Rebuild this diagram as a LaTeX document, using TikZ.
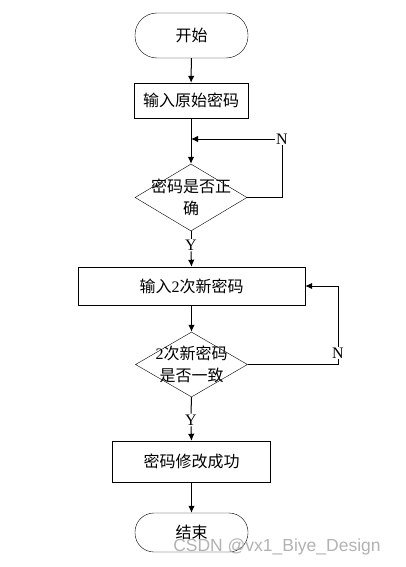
\documentclass[tikz,border=0pt]{standalone}
\usepackage{fontspec}
\setmainfont{Liberation Serif}
\newfontfamily\cjk{Noto Sans CJK SC}
\newfontfamily\wmfont{Liberation Sans}
\usetikzlibrary{shapes.geometric,arrows.meta}

\tikzset{
  terminal/.style={draw, rectangle, rounded corners=19pt, minimum width=113pt, font=\cjk\fontsize{16}{22}\selectfont},
  procbox/.style={draw, rectangle, font=\cjk\fontsize{16}{22}\selectfont},
  decision/.style={draw, diamond, inner sep=0pt, minimum width=112pt, minimum height=67pt},
  dtext/.style={align=center, font=\cjk\fontsize{16}{22}\selectfont},
  yn/.style={font=\fontsize{16}{18}\selectfont, inner sep=1pt},
  flow/.style={-{Latex[length=7pt,width=6.5pt]}, line width=1pt},
  link/.style={line width=1pt}
}

\begin{document}
\begin{tikzpicture}[x=1pt, y=-1pt]
		\useasboundingbox (0,0) rectangle (405,567);

		% nodes
		\node[terminal, minimum height=45pt, rounded corners=22pt] (start) at (191.5,35.5) {开始};
		\node[procbox, minimum width=114pt, minimum height=35pt] (oldpw) at (191,100.5) {输入原始密码};
		\node[decision, label={[dtext]center:密码是否正\\确}] (chkold) at (191,197.5) {};
		\node[procbox, minimum width=227pt, minimum height=38pt] (newpw) at (191.5,286) {输入{\rmfamily 2}次新密码};
		\node[decision, minimum height=65pt, label={[dtext]center:{\rmfamily 2}次新密码\\是否一致}] (chknew) at (191.5,364.5) {};
		\node[procbox, minimum width=158pt, minimum height=41pt] (done) at (191.5,461.5) {密码修改成功};
		\node[terminal, minimum height=39pt] (stop) at (191.5,532.5) {结束};

		% labels
		\node[yn] (nold) at (282,139) {N};
		\node[yn] (yold) at (191,245) {Y};
		\node[yn] (nnew) at (338,353) {N};
		\node[yn] (ynew) at (191,420) {Y};

		% connectors
		\draw[flow] (start) -- (oldpw);
		\draw[flow] (oldpw) -- (chkold);
		\draw[link] (chkold.east) -| (nold.south);
		\draw[flow] (nold.west) -- (oldpw.south |- nold.west);
		\draw[link] (chkold.south) -- (yold.north);
		\draw[flow] (yold.south) -- (newpw.north);
		\draw[flow] (newpw) -- (chknew);
		\draw[link] (chknew.east) -| (nnew.south);
		\draw[flow] (nnew.north) |- (newpw.east);
		\draw[link] (chknew.south) -- (ynew.north);
		\draw[flow] (ynew.south) -- (done.north);
		\draw[flow] (done) -- (stop);

		\node[text=gray!60, font=\wmfont\fontsize{17.5}{20}\selectfont] (mark) at (277,547) {CSDN @vx1\_Biye\_Design};
\end{tikzpicture}
\end{document}
